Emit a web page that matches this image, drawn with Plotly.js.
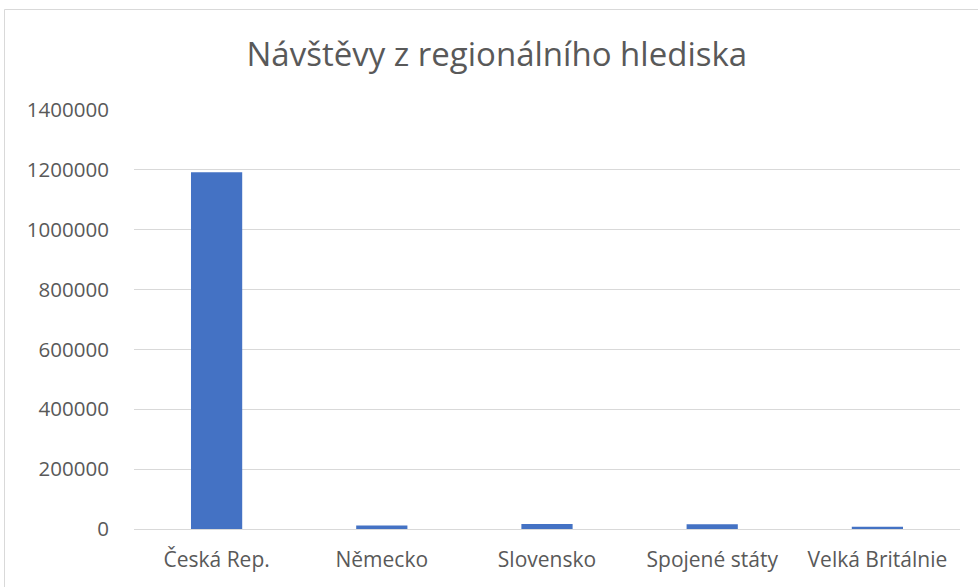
<!DOCTYPE html>
<html><head><meta charset="utf-8">
<script src="https://cdn.plot.ly/plotly-3.0.1.min.js"></script>
<style>body{margin:0;background:#fff}#c{width:978px;height:587px}</style>
</head><body><div id="c"></div>
<script>
const categories = ["Česká Rep.", "Německo", "Slovensko", "Spojené státy", "Velká Britálnie"];
const visits = [1192000, 12000, 16500, 16000, 7500];
const yTicks = [0, 200000, 400000, 600000, 800000, 1000000, 1200000, 1400000];

const W = 978, H = 587, m = {l:134, r:18, t:110, b:58};
const pw = W - m.l - m.r, ph = H - m.t - m.b;
const px = x => (x - m.l) / pw, py = y => (H - m.b - y) / ph;

Plotly.newPlot('c', [{
  type: 'bar', x: categories, y: visits,
  marker: {color: '#4472C4'}, hoverinfo: 'x+y'
}], {
  width: W, height: H, margin: m,
  paper_bgcolor: '#fff', plot_bgcolor: '#fff',
  font: {family: '"Open Sans", Lato, sans-serif', color: '#595959', size: 20},
  title: {text: 'Návštěvy z regionálního hlediska', x: 0.508, xanchor: 'center', y: 0.908, yanchor: 'middle',
          font: {size: 33, color: '#595959', family: '"Open Sans", Lato, sans-serif'}},
  bargap: 0.69,
  xaxis: {showgrid: false, zeroline: false, showline: true, linecolor: '#d9d9d9', linewidth: 1,
          ticks: 'outside', ticklen: 12, tickcolor: 'rgba(0,0,0,0)', tickfont: {size: 21}},
  yaxis: {range: [0, 1400000], tickvals: yTicks, ticktext: yTicks.map(String),
          showgrid: true, gridcolor: '#d9d9d9', zeroline: false,
          ticks: 'outside', ticklen: 20, tickcolor: 'rgba(0,0,0,0)', tickfont: {size: 20.5}},
  shapes: [{type: 'rect', xref: 'paper', yref: 'paper',
            x0: px(4.5), x1: px(1000), y0: py(9.5), y1: py(620),
            line: {color: '#d9d9d9', width: 1}, fillcolor: 'rgba(0,0,0,0)', layer: 'below'}],
  showlegend: false
}, {displayModeBar: false});
</script></body></html>
